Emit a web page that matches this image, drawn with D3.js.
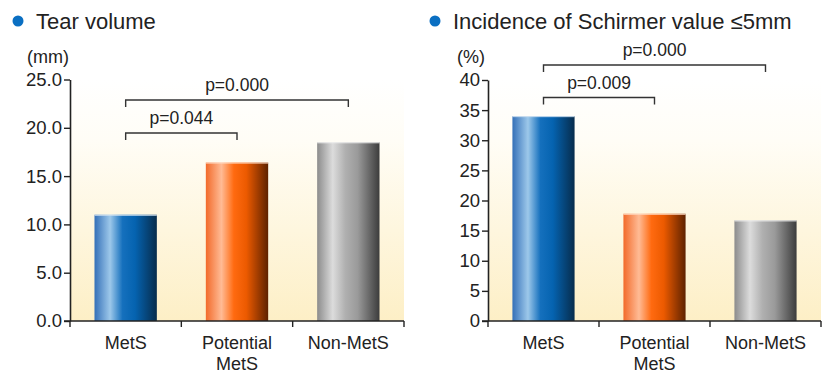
<!DOCTYPE html>
<html><head><meta charset="utf-8">
<script src="https://cdn.jsdelivr.net/npm/d3@7"></script>
<style>
html,body{margin:0;padding:0;background:#fff;}
svg{display:block;font-family:"Liberation Sans",Arial,sans-serif;}
</style></head>
<body>
<svg id="c" width="822" height="373"></svg>
<script>
const categories = ["MetS", "Potential\nMetS", "Non-MetS"];
const tearVolume = [11.0, 16.4, 18.5];
const schirmerIncidence = [34.0, 17.8, 16.7];
const tearTicks = [0, 5, 10, 15, 20, 25];
const schirmerTicks = [0, 5, 10, 15, 20, 25, 30, 35, 40];
const tearBrackets = [{from: 0, to: 2, label: "p=0.000", level: 2}, {from: 0, to: 1, label: "p=0.044", level: 1}];
const schirmerBrackets = [{from: 0, to: 2, label: "p=0.000", level: 2}, {from: 0, to: 1, label: "p=0.009", level: 1}];

const svg = d3.select("#c");
const defs = svg.append("defs");

const bg = defs.append("linearGradient").attr("id","bg").attr("x1",0).attr("y1",0).attr("x2",0).attr("y2",1);
bg.append("stop").attr("offset","0").attr("stop-color","#ffffff");
bg.append("stop").attr("offset","0.25").attr("stop-color","#fffdf6");
bg.append("stop").attr("offset","1").attr("stop-color","#fdefc6");

const barStops = [
  [["0","#3470b8"],["0.25","#9dc8ea"],["0.45","#1570bd"],["0.65","#0563b0"],["1","#072c4c"]],
  [["0","#f26a2a"],["0.25","#ffbb95"],["0.45","#ff6a10"],["0.65","#ec5a00"],["1","#5e2200"]],
  [["0","#8c8c8c"],["0.25","#dcdcdc"],["0.45","#b0b0b0"],["0.65","#9a9a9a"],["1","#3c3c3c"]]
];
barStops.forEach((stops,i)=>{
  const g = defs.append("linearGradient").attr("id","bar"+i).attr("x1",0).attr("y1",0).attr("x2",1).attr("y2",0);
  stops.forEach(s=>g.append("stop").attr("offset",s[0]).attr("stop-color",s[1]));
});
const topEdge = ["#cfe0f0","#ffd8c0","#eeeeee"];

function drawChart(opt){
  const g = svg.append("g");
  const x = d3.scaleBand().domain(d3.range(categories.length)).range([opt.x0, opt.x1]).paddingInner(0).paddingOuter(0);
  const y = d3.scaleLinear().domain([0, d3.max(opt.ticks)]).range([opt.yb, opt.yt]);

  // title
  g.append("circle").attr("cx", opt.dotX).attr("cy", 21).attr("r", 5.5).attr("fill", "#0a6fc2");
  g.append("text").attr("x", opt.dotX + 18).attr("y", 28.5).attr("font-size", 22).attr("fill","#222").text(opt.title);

  // background
  g.append("rect").attr("x", opt.x0).attr("y", opt.yt).attr("width", opt.x1 - opt.x0).attr("height", opt.yb - opt.yt).attr("fill","url(#bg)");

  // unit
  g.append("text").attr("x", opt.unitX).attr("y", 63).attr("font-size", 18).attr("text-anchor","middle").attr("fill","#222").text(opt.unit);

  // bars
  const bw = x.bandwidth() * 0.56;
  const data = opt.values;
  g.selectAll(".bar").data(data).join("rect")
    .attr("x", (d,i)=> x(i) + x.bandwidth()/2 - bw/2)
    .attr("y", d=> y(d))
    .attr("width", bw)
    .attr("height", d=> opt.yb - y(d))
    .attr("fill", (d,i)=>"url(#bar"+i+")");
  g.selectAll(".edge").data(data).join("line")
    .attr("x1", (d,i)=> x(i) + x.bandwidth()/2 - bw/2)
    .attr("x2", (d,i)=> x(i) + x.bandwidth()/2 + bw/2)
    .attr("y1", d=> y(d)+0.5).attr("y2", d=> y(d)+0.5)
    .attr("stroke", (d,i)=>topEdge[i]).attr("stroke-width",1);

  // y axis
  const ya = d3.axisLeft(y).tickValues(opt.ticks).tickFormat(opt.fmt).tickSize(6).tickSizeOuter(0);
  const yg = g.append("g").attr("transform", `translate(${opt.x0},0)`).call(ya);
  yg.select(".domain").attr("stroke","#222").attr("stroke-width",1.6);
  yg.selectAll(".tick line").attr("stroke","#222").attr("stroke-width",1.4);
  yg.selectAll(".tick text").attr("font-size",18.5).attr("fill","#222").attr("font-family","Liberation Sans, Arial, sans-serif").attr("x",-8);

  // x axis
  g.append("line").attr("x1", opt.x0 - 6).attr("x2", opt.x1).attr("y1", opt.yb).attr("y2", opt.yb).attr("stroke","#222").attr("stroke-width",1.6);
  const tickXs = d3.range(categories.length + 1).map(i => i < categories.length ? x(i) : opt.x1);
  g.selectAll(".xt").data(tickXs).join("line")
    .attr("x1", d=>d).attr("x2", d=>d).attr("y1", opt.yb).attr("y2", opt.yb + 6)
    .attr("stroke","#222").attr("stroke-width",1.4);
  categories.forEach((c,i)=>{
    const t = g.append("text").attr("x", x(i) + x.bandwidth()/2).attr("y", opt.yb + 28).attr("text-anchor","middle").attr("font-size",18).attr("fill","#222");
    c.split("\n").forEach((line,j)=> t.append("tspan").attr("x", x(i) + x.bandwidth()/2).attr("dy", j===0?0:21).text(line));
  });

  // brackets
  opt.brackets.forEach(b=>{
    const bx1 = x(b.from) + x.bandwidth()/2;
    const bx2 = x(b.to) + x.bandwidth()/2;
    const by = opt.bracketY[b.level];
    g.append("path").attr("d", `M${bx1},${by+7}V${by}H${bx2}V${by+7}`).attr("fill","none").attr("stroke","#333").attr("stroke-width",1.4);
    g.append("text").attr("x", (bx1+bx2)/2).attr("y", by - 9).attr("text-anchor","middle").attr("font-size",17.5).attr("fill","#222").text(b.label);
  });
}

drawChart({
  title: "Tear volume", dotX: 18, unit: "(mm)", unitX: 48,
  x0: 70, x1: 404, yt: 79.5, yb: 321,
  values: tearVolume, ticks: tearTicks, fmt: d3.format(".1f"),
  brackets: tearBrackets, bracketY: {1: 133, 2: 100}
});
drawChart({
  title: "Incidence of Schirmer value \u22645mm", dotX: 435, unit: "(%)", unitX: 471,
  x0: 488, x1: 821, yt: 80, yb: 321,
  values: schirmerIncidence, ticks: schirmerTicks, fmt: d3.format("d"),
  brackets: schirmerBrackets, bracketY: {1: 97.5, 2: 65}
});
</script>
</body></html>
